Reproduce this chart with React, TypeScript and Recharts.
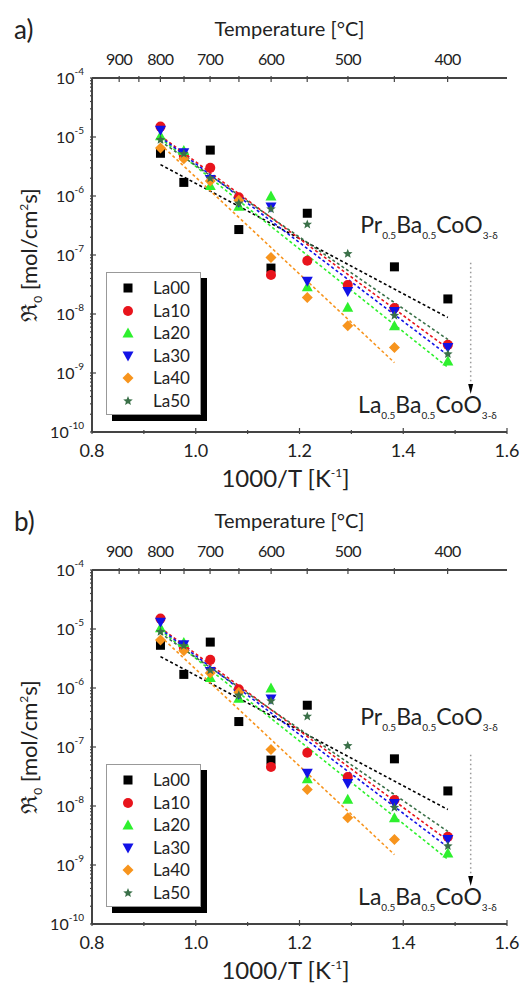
import React from 'react';
import { ComposedChart, Scatter, XAxis, YAxis, ReferenceLine, ReferenceDot, Legend, Label } from 'recharts';

const FONT = 'Lato, "Open Sans", "DejaVu Sans", sans-serif';
const TEXT = '#222';
const AXIS = '#444';

// 1000/T [1/K] of the measurement temperatures 800, 750 ... 400 °C
const invT = [0.932, 0.977, 1.028, 1.083, 1.145, 1.215, 1.293, 1.383, 1.486];

// surface exchange rate R0 [mol/cm^2 s] per composition (null = no point)
const la00 = [5.3e-6, 1.7e-6, 6.0e-6, 2.7e-7, 6.0e-8, 5.1e-7, null, 6.3e-8, 1.8e-8];
const la10 = [1.5e-5, 4.8e-6, 3.0e-6, 9.5e-7, 4.6e-8, 8.0e-8, 3.1e-8, 1.26e-8, 3.0e-9];
const la20 = [1.05e-5, 5.9e-6, 1.5e-6, 6.7e-7, 1.0e-6, 2.9e-8, 1.3e-8, 6.3e-9, 1.6e-9];
const la30 = [1.3e-5, 5.4e-6, 1.9e-6, 7.8e-7, 6.5e-7, 3.6e-8, 2.4e-8, 1.1e-8, 2.7e-9];
const la40 = [6.5e-6, 4.3e-6, 1.8e-6, 8.5e-7, 9.1e-8, 1.9e-8, 6.3e-9, 2.7e-9, null];
const la50 = [9.0e-6, 5.2e-6, 2.0e-6, 7.5e-7, 6.0e-7, 3.3e-7, 1.05e-7, 9.4e-9, 2.1e-9];

// Arrhenius fit lines (start / end)
const fitX = [0.932, 1.486];
const fitXLa40 = [0.932, 1.383];
const fit00 = [3.4e-6, 8.7e-9];
const fit10 = [1.05e-5, 2.6e-9];
const fit20 = [9.5e-6, 1.25e-9];
const fit30 = [1.0e-5, 2.0e-9];
const fit40 = [7.5e-6, 1.5e-9];
const fit50 = [8.5e-6, 3.7e-9];

const seriesNames = ['La00', 'La10', 'La20', 'La30', 'La40', 'La50'];
const seriesColors = ['#000000', '#e8141c', '#2ef02e', '#1212e6', '#f7941d', '#3a7048'];
const seriesShapes = ['square', 'circle', 'up', 'down', 'diamond', 'star'];
const seriesValues = [la00, la10, la20, la30, la40, la50];
const seriesFits = [fit00, fit10, fit20, fit30, fit40, fit50];
const seriesFitX = [fitX, fitX, fitX, fitX, fitXLa40, fitX];

// axis ticks
const xMajorTicks = [0.8, 1.0, 1.2, 1.4, 1.6];
const xMinorTicks = [0.9, 1.1, 1.3, 1.5];
const tempLabelTicks = [900, 800, 700, 600, 500, 400];
const tempMinorTicks = [850, 750, 650, 550, 450];
const yMajorTicks = [1e-10, 1e-9, 1e-8, 1e-7, 1e-6, 1e-5, 1e-4];
const yMinorFactors = [2, 3, 4, 5, 6, 7, 8, 9];

// annotations
const prLabelAt = { x: 1.317, y: 2.4e-7 };
const laLabelAt = { x: 1.313, y: 2.1e-10 };
const markerLine = { x: 1.53, yTop: 7.4e-8, yBottom: 6.2e-10, arrow: 4.6e-10 };
const prFormula: [string, boolean][] = [['Pr', false], ['0.5', true], ['Ba', false], ['0.5', true], ['CoO', false], ['3-δ', true]];
const laFormula: [string, boolean][] = [['La', false], ['0.5', true], ['Ba', false], ['0.5', true], ['CoO', false], ['3-δ', true]];

const toTempX = (t: number) => 1000 / (t + 273.15);
const topTicks = [...tempLabelTicks, ...tempMinorTicks].map(toTempX).sort((a, b) => a - b);
const xTicks = [...xMajorTicks, ...xMinorTicks].sort((a, b) => a - b);
const yMinorTicks: number[] = [];
yMajorTicks.slice(0, -1).forEach((m) => yMinorFactors.forEach((f) => yMinorTicks.push(m * f)));
const yTicks = [...yMajorTicks, ...yMinorTicks].sort((a, b) => a - b);

const isMajorY = (v: number) => {
  const l = Math.log10(v);
  return Math.abs(l - Math.round(l)) < 1e-6;
};
const isMajorX = (v: number) => xMajorTicks.some((m) => Math.abs(m - v) < 1e-6);

function Marker({ cx, cy, kind, color }: { cx: number; cy: number; kind: string; color: string }) {
  if (cx == null || cy == null || isNaN(cx) || isNaN(cy)) return <g />;
  switch (kind) {
    case 'square':
      return <rect x={cx - 4.5} y={cy - 4.5} width={9} height={9} fill={color} />;
    case 'circle':
      return <circle cx={cx} cy={cy} r={5} fill={color} />;
    case 'up':
      return <polygon points={`${cx},${cy - 5.5} ${cx + 5.5},${cy + 4.5} ${cx - 5.5},${cy + 4.5}`} fill={color} />;
    case 'down':
      return <polygon points={`${cx},${cy + 5.5} ${cx + 5.5},${cy - 4.5} ${cx - 5.5},${cy - 4.5}`} fill={color} />;
    case 'diamond':
      return <polygon points={`${cx},${cy - 5.5} ${cx + 5.5},${cy} ${cx},${cy + 5.5} ${cx - 5.5},${cy}`} fill={color} />;
    case 'star': {
      const pts: string[] = [];
      for (let i = 0; i < 10; i++) {
        const r = i % 2 === 0 ? 5 : 2.2;
        const a = -Math.PI / 2 + (i * Math.PI) / 5;
        pts.push(`${cx + r * Math.cos(a)},${cy + r * Math.sin(a)}`);
      }
      return <polygon points={pts.join(' ')} fill={color} />;
    }
    default:
      return <g />;
  }
}

const LeftTick = (p: any) => {
  const v = p.payload.value;
  const major = isMajorY(v);
  const exp = Math.round(Math.log10(v));
  return (
    <g>
      <line x1={p.x} x2={p.x + (major ? 6 : 3)} y1={p.y} y2={p.y} stroke={AXIS} strokeWidth={1.2} />
      {major && (
        <text x={p.x - 6} y={p.y + 6} textAnchor="end" fontFamily={FONT} fontSize={16} fill={TEXT}>
          <tspan>10</tspan>
          <tspan fontSize={10} dy={-9}>{String(exp)}</tspan>
        </text>
      )}
    </g>
  );
};

const RightTick = (p: any) => {
  const major = isMajorY(p.payload.value);
  return <line x1={p.x} x2={p.x - (major ? 6 : 3)} y1={p.y} y2={p.y} stroke={AXIS} strokeWidth={1.2} />;
};

const BottomTick = (p: any) => {
  const v = p.payload.value;
  const major = isMajorX(v);
  return (
    <g>
      <line x1={p.x} x2={p.x} y1={p.y} y2={p.y - (major ? 6 : 4)} stroke={AXIS} strokeWidth={1.2} />
      {major && (
        <text x={p.x} y={p.y + 23} textAnchor="middle" fontFamily={FONT} fontSize={18} fill={TEXT}>
          {v.toFixed(1)}
        </text>
      )}
    </g>
  );
};

const TopTick = (p: any) => {
  const t = Math.round((1000 / p.payload.value - 273.15) / 10) * 10;
  const labelled = tempLabelTicks.includes(t);
  return (
    <g>
      <line x1={p.x} x2={p.x} y1={p.y} y2={p.y + 6} stroke={AXIS} strokeWidth={1.2} />
      {labelled && (
        <text x={p.x} y={p.y - 11} textAnchor="middle" fontFamily={FONT} fontSize={16} letterSpacing={-0.5} fill={TEXT}>
          {String(t)}
        </text>
      )}
    </g>
  );
};

const TopTitle = (p: any) => {
  const vb = p.viewBox;
  return (
    <text x={vb.x + vb.width / 2 - 10} y={vb.y - 2} textAnchor="middle" fontFamily={FONT} fontSize={20} fill={TEXT}>
      Temperature [°C]
    </text>
  );
};

const BottomTitle = (p: any) => {
  const vb = p.viewBox;
  return (
    <text x={vb.x + vb.width / 2 - 14} y={vb.y + 55} textAnchor="middle" fontFamily={FONT} fontSize={24} fill={TEXT}>
      <tspan>1000/T [K</tspan>
      <tspan fontSize={12} dy={-10}>-1</tspan>
      <tspan dy={10}>]</tspan>
    </text>
  );
};

const LeftTitle = (p: any) => {
  const vb = p.viewBox;
  const x0 = vb.x + 5;
  const y0 = vb.y + vb.height / 2;
  return (
    <text x={x0} y={y0} transform={`rotate(-90, ${x0}, ${y0})`} textAnchor="middle" fontFamily={FONT} fontSize={22} fill={TEXT}>
      <tspan fontFamily='"DejaVu Serif", serif'>ℜ</tspan>
      <tspan fontSize={12} dy={5}>0</tspan>
      <tspan dy={-5}> [mol/cm</tspan>
      <tspan fontSize={12} dy={-9}>2</tspan>
      <tspan dy={9}>s]</tspan>
    </text>
  );
};

const formulaShape = (parts: [string, boolean][]) => (p: any) => {
  const out: React.ReactNode[] = [];
  let shift = 0;
  parts.forEach(([s, sub], i) => {
    const want = sub ? 6 : 0;
    out.push(
      <tspan key={i} fontSize={sub ? 10 : 23} dy={want - shift}>
        {s}
      </tspan>
    );
    shift = want;
  });
  return (
    <text x={p.cx} y={p.cy} fontFamily={FONT} fill={TEXT}>
      {out}
    </text>
  );
};

const arrowShape = (p: any) => (
  <polygon points={`${p.cx - 2.5},${p.cy - 9} ${p.cx + 2.5},${p.cy - 9} ${p.cx},${p.cy + 1}`} fill="#000" />
);

const LegendBox = () => (
  <div
    style={{
      width: 95,
      height: 143,
      border: '1px solid #999',
      boxShadow: '6px 6px 0 #000',
      background: '#fff',
      boxSizing: 'border-box',
      paddingTop: 4,
      fontFamily: FONT,
      color: TEXT,
    }}
  >
    {seriesNames.map((n, i) => (
      <div key={n} style={{ display: 'flex', alignItems: 'center', height: 22.5 }}>
        <svg width={46} height={22} style={{ display: 'block' }}>
          <Marker cx={21} cy={11} kind={seriesShapes[i]} color={seriesColors[i]} />
        </svg>
        <span style={{ fontSize: 17, lineHeight: '22px' }}>{n}</span>
      </div>
    ))}
  </div>
);

function Panel({ tag }: { tag: string }) {
  return (
    <div style={{ position: 'relative', width: 524, height: 492 }}>
      <ComposedChart width={524} height={492} margin={{ top: 38, right: 17, bottom: 20, left: 32 }}>
        <XAxis
          xAxisId="b"
          dataKey="x"
          type="number"
          domain={[0.8, 1.6]}
          allowDataOverflow
          ticks={xTicks}
          interval={0}
          tickSize={0}
          tickLine={false}
          tick={<BottomTick />}
          height={40}
          axisLine={{ stroke: AXIS, strokeWidth: 2 }}
        >
          <Label content={<BottomTitle />} />
        </XAxis>
        <XAxis
          xAxisId="t"
          orientation="top"
          dataKey="x"
          type="number"
          domain={[0.8, 1.6]}
          allowDataOverflow
          ticks={topTicks}
          interval={0}
          tickSize={0}
          tickLine={false}
          tick={<TopTick />}
          height={40}
          axisLine={{ stroke: AXIS, strokeWidth: 2 }}
        >
          <Label content={<TopTitle />} />
        </XAxis>
        <YAxis
          yAxisId="l"
          dataKey="y"
          type="number"
          scale="log"
          domain={[1e-10, 1e-4]}
          allowDataOverflow
          ticks={yTicks}
          interval={0}
          tickSize={0}
          tickLine={false}
          tick={<LeftTick />}
          width={60}
          axisLine={{ stroke: AXIS, strokeWidth: 2 }}
        >
          <Label content={<LeftTitle />} />
        </YAxis>
        <YAxis
          yAxisId="r"
          orientation="right"
          dataKey="y"
          type="number"
          scale="log"
          domain={[1e-10, 1e-4]}
          allowDataOverflow
          ticks={yTicks}
          interval={0}
          tickSize={0}
          tickLine={false}
          tick={<RightTick />}
          width={0}
          axisLine={{ stroke: AXIS, strokeWidth: 2 }}
        />

        {seriesNames.map((n, i) => (
          <Scatter
            key={'fit' + n}
            name={'fit ' + n}
            xAxisId="b"
            yAxisId="l"
            data={seriesFitX[i].map((x, k) => ({ x, y: seriesFits[i][k] }))}
            fill={seriesColors[i]}
            line={{ stroke: seriesColors[i], strokeWidth: 1.6, strokeDasharray: '3 2.5' }}
            shape={() => <g />}
            legendType="none"
            isAnimationActive={false}
          />
        ))}

        <ReferenceLine
          xAxisId="b"
          yAxisId="l"
          segment={[
            { x: markerLine.x, y: markerLine.yTop },
            { x: markerLine.x, y: markerLine.yBottom },
          ]}
          stroke="#999"
          strokeWidth={1.5}
          strokeDasharray="1.5 3"
        />
        <ReferenceDot xAxisId="b" yAxisId="l" x={markerLine.x} y={markerLine.arrow} r={0} shape={arrowShape} />

        {seriesNames.map((n, i) => (
          <Scatter
            key={n}
            name={n}
            xAxisId="b"
            yAxisId="l"
            data={invT.map((x, k) => ({ x, y: seriesValues[i][k] })).filter((d) => d.y != null)}
            fill={seriesColors[i]}
            shape={(p: any) => <Marker cx={p.cx} cy={p.cy} kind={seriesShapes[i]} color={seriesColors[i]} />}
            isAnimationActive={false}
          />
        ))}

        <ReferenceDot xAxisId="b" yAxisId="l" x={prLabelAt.x} y={prLabelAt.y} r={0} shape={formulaShape(prFormula)} />
        <ReferenceDot xAxisId="b" yAxisId="l" x={laLabelAt.x} y={laLabelAt.y} r={0} shape={formulaShape(laFormula)} />

        <Legend
          layout="vertical"
          align="center"
          verticalAlign="middle"
          content={() => <LegendBox />}
          wrapperStyle={{ left: 106, top: 272, width: 101, height: 149 }}
        />
      </ComposedChart>
      <div
        style={{
          position: 'absolute',
          left: 14,
          top: 14,
          fontFamily: FONT,
          fontSize: 26,
          lineHeight: '30px',
          color: TEXT,
        }}
      >
        {tag}
      </div>
    </div>
  );
}

export default function App() {
  return (
    <div style={{ position: 'absolute', left: 0, top: 0, width: 524, height: 989, background: '#fff' }}>
      <Panel tag="a)" />
      <Panel tag="b)" />
    </div>
  );
}
